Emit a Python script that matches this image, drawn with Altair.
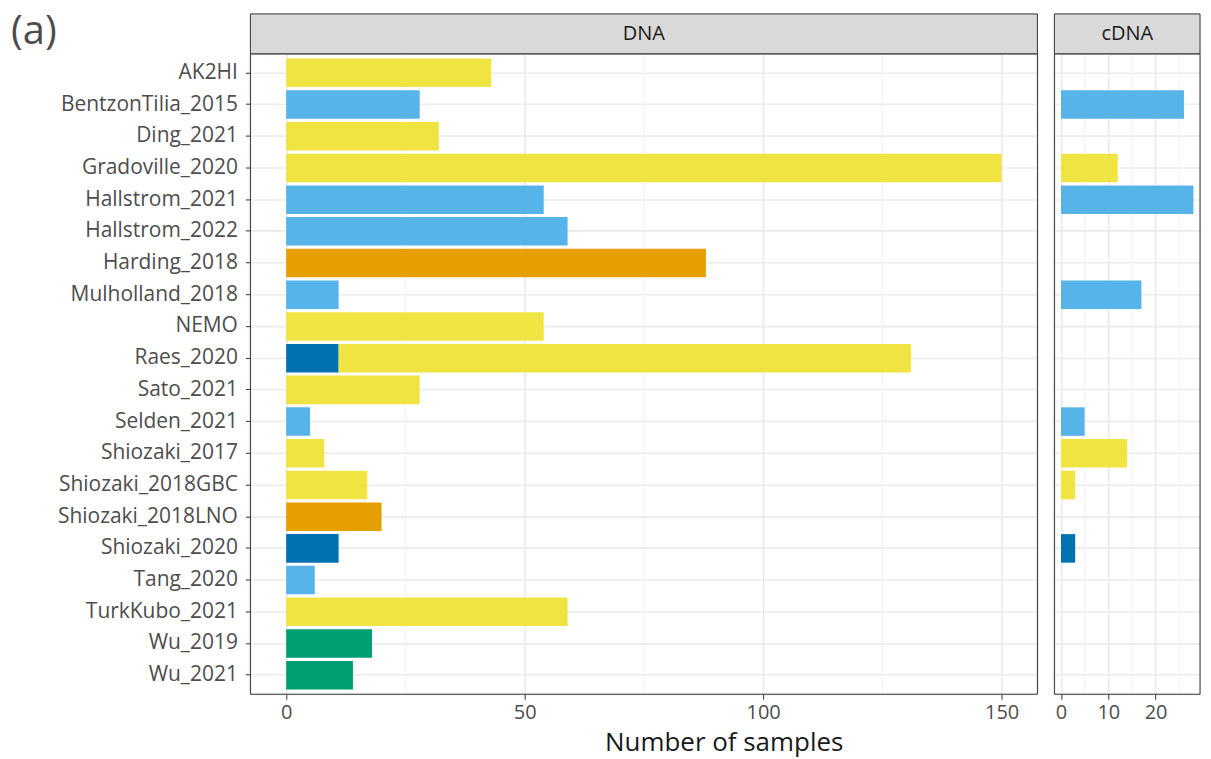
import altair as alt
import pandas as pd

# Study names, top to bottom
studies = [
    "AK2HI", "BentzonTilia_2015", "Ding_2021", "Gradoville_2020", "Hallstrom_2021",
    "Hallstrom_2022", "Harding_2018", "Mulholland_2018", "NEMO", "Raes_2020",
    "Sato_2021", "Selden_2021", "Shiozaki_2017", "Shiozaki_2018GBC", "Shiozaki_2018LNO",
    "Shiozaki_2020", "Tang_2020", "TurkKubo_2021", "Wu_2019", "Wu_2021",
]

# Sample groups and their fill colours
groups = ["G1", "G2", "G3", "G4", "G5"]
group_colors = ["#F0E442", "#56B4E9", "#E69F00", "#0072B2", "#009E73"]

# DNA samples per study (Raes_2020 is split across two groups)
dna_study = [
    "AK2HI", "BentzonTilia_2015", "Ding_2021", "Gradoville_2020", "Hallstrom_2021",
    "Hallstrom_2022", "Harding_2018", "Mulholland_2018", "NEMO", "Raes_2020", "Raes_2020",
    "Sato_2021", "Selden_2021", "Shiozaki_2017", "Shiozaki_2018GBC", "Shiozaki_2018LNO",
    "Shiozaki_2020", "Tang_2020", "TurkKubo_2021", "Wu_2019", "Wu_2021",
]
dna_group = [
    "G1", "G2", "G1", "G1", "G2",
    "G2", "G3", "G2", "G1", "G4", "G1",
    "G1", "G2", "G1", "G1", "G3",
    "G4", "G2", "G1", "G5", "G5",
]
dna_count = [43, 28, 32, 150, 54, 59, 88, 11, 54, 11, 120, 28, 5, 8, 17, 20, 11, 6, 59, 18, 14]
dna_stack = [0, 0, 0, 0, 0, 0, 0, 0, 0, 0, 1, 0, 0, 0, 0, 0, 0, 0, 0, 0, 0]

# cDNA samples per study
cdna_study = [
    "BentzonTilia_2015", "Gradoville_2020", "Hallstrom_2021", "Mulholland_2018",
    "Selden_2021", "Shiozaki_2017", "Shiozaki_2018GBC", "Shiozaki_2020",
]
cdna_group = ["G2", "G1", "G2", "G2", "G2", "G1", "G1", "G4"]
cdna_count = [26, 12, 28, 17, 5, 14, 3, 3]

# Axis ticks and minor grid positions
dna_ticks = [0, 50, 100, 150]
dna_minor = [25, 75, 125]
cdna_ticks = [0, 10, 20]
cdna_minor = [5, 15, 25]

FONT = "Open Sans"
H = 642
W_DNA = 789
W_CDNA = 146
STRIP = 40
GAP = 15

dna_df = pd.DataFrame({"study": dna_study, "group": dna_group,
                       "count": dna_count, "stack": dna_stack})
cdna_df = pd.DataFrame({"study": cdna_study, "group": cdna_group,
                        "count": cdna_count, "stack": [0] * len(cdna_study)})

color = alt.Color("group:N", scale=alt.Scale(domain=groups, range=group_colors), legend=None)
yscale = alt.Scale(domain=studies, paddingInner=0.1, paddingOuter=0.15)


def panel(df, label, width, domain, ticks, minor, show_y):
    xscale = alt.Scale(domain=domain, nice=False, zero=False)
    xaxis = alt.Axis(values=ticks, title=None, grid=True, gridColor="#EBEBEB",
                     gridWidth=1.6, domain=False, tickColor="#333333",
                     tickSize=5, labelFont=FONT, labelFontSize=20,
                     labelColor="#4D4D4D", labelPadding=3)
    if show_y:
        yaxis = alt.Axis(title=None, bandPosition=0.5, grid=True, gridColor="#EBEBEB",
                         gridWidth=1.6, domain=False, ticks=True, tickColor="#333333",
                         tickSize=5, labelFont=FONT, labelFontSize=21,
                         labelColor="#4D4D4D", labelPadding=8, labelLimit=400)
    else:
        yaxis = alt.Axis(title=None, bandPosition=0.5, grid=True, gridColor="#EBEBEB",
                         gridWidth=1.6, domain=False, ticks=False, labels=False,
                         minExtent=0, maxExtent=0)

    minor_grid = alt.Chart(pd.DataFrame({"v": minor})).mark_rule(
        color="#F2F2F2", strokeWidth=1
    ).encode(x=alt.X("v:Q", scale=xscale, axis=xaxis))

    bars = alt.Chart(df).mark_bar().encode(
        x=alt.X("count:Q", scale=xscale, stack="zero", axis=xaxis),
        y=alt.Y("study:N", scale=yscale, sort=studies, axis=yaxis),
        color=color,
        order=alt.Order("stack:Q"),
    )

    border = alt.Chart(pd.DataFrame({"t": [label]})).mark_rect(
        fill=None, stroke="#333333", strokeWidth=1
    ).encode(x=alt.value(0), x2=alt.value(width), y=alt.value(0), y2=alt.value(H))

    strip = alt.Chart(pd.DataFrame({"t": [label]})).mark_rect(
        fill="#D9D9D9", stroke="#333333", strokeWidth=1
    ).encode(x=alt.value(0), x2=alt.value(width), y=alt.value(-STRIP), y2=alt.value(0))

    strip_text = alt.Chart(pd.DataFrame({"t": [label]})).mark_text(
        font=FONT, fontSize=20, color="#1A1A1A", baseline="middle", align="center"
    ).encode(text="t:N", x=alt.value(width / 2), y=alt.value(-STRIP / 2))

    return alt.layer(minor_grid, bars, border, strip, strip_text).properties(width=width, height=H)


left = panel(dna_df, "DNA", W_DNA, [-7.5, 157.5], dna_ticks, dna_minor, True)
right = panel(cdna_df, "cDNA", W_CDNA, [-1.4, 29.4], cdna_ticks, cdna_minor, False)

# Panel tag and shared x-axis title
tag = alt.Chart(pd.DataFrame({"t": ["(a)"]})).mark_text(
    font=FONT, fontSize=40, color="#4D4D4D", align="left", baseline="alphabetic"
).encode(text="t:N", x=alt.value(-240), y=alt.value(-10))

xtitle = alt.Chart(pd.DataFrame({"t": ["Number of samples"]})).mark_text(
    font=FONT, fontSize=26, color="#1A1A1A", align="center", baseline="alphabetic"
).encode(text="t:N", x=alt.value((W_DNA + GAP + W_CDNA) / 2), y=alt.value(H + 57))

left = alt.layer(left, tag, xtitle)

chart = alt.hconcat(left, right, spacing=GAP).properties(
    padding={"left": 10, "top": 10, "right": 10, "bottom": 5}
).configure_view(
    stroke=None
).configure(background="white")

chart.save("out.html", embed_options={"renderer": "svg", "actions": False})
